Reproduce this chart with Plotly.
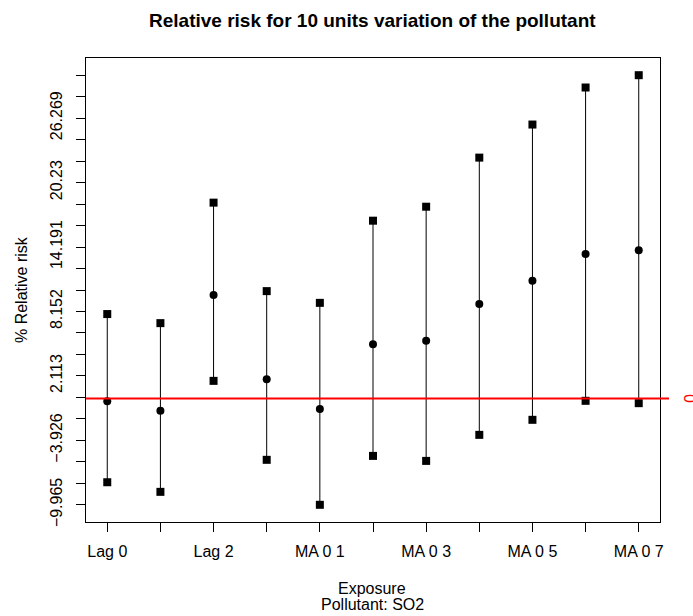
import numpy as np
import plotly.graph_objects as go

# Exposure windows and % relative risk (estimate with confidence limits)
categories = ["Lag 0", "Lag 1", "Lag 2", "Lag 3", "MA 0 1", "MA 0 2",
              "MA 0 3", "MA 0 4", "MA 0 5", "MA 0 6", "MA 0 7"]
estimate = [-0.26, -1.16, 9.69, 1.81, -0.99, 5.07, 5.40, 8.85, 11.03, 13.53, 13.90]
lower = [-7.85, -8.75, 1.65, -5.75, -9.965, -5.38, -5.85, -3.41, -2.00, -0.22, -0.44]
upper = [7.91, 7.06, 18.35, 10.06, 8.96, 16.66, 17.97, 22.57, 25.67, 29.14, 30.295]
y_tick_labels = ["\u22129.965", "\u22123.926", "2.113", "8.152", "14.191", "20.23", "26.269"]

W, H = 693, 616
L, R, T, B = 86, 33, 58, 94
FONT = "Liberation Sans, Arial, sans-serif"


def px_x(px):
    return (px - L) / (W - L - R)


def px_y(py):
    return (H - B - py) / (H - T - B)


xs = list(range(1, len(categories) + 1))

# y ticks: 21 evenly spaced marks over the interval range, every third labelled
lo, hi = min(lower), max(upper)
tick_vals = list(np.linspace(lo, hi, 21))
tick_text = [y_tick_labels[i // 3] if i % 3 == 0 else "" for i in range(21)]
pad = 0.04 * (hi - lo)

# x labels: alternate categories shown
x_text = [c if i % 2 == 0 else "" for i, c in enumerate(categories)]

seg_x, seg_y = [], []
for x, lo_v, up_v in zip(xs, lower, upper):
    seg_x += [x, x, None]
    seg_y += [lo_v, up_v, None]

fig = go.Figure()
fig.add_trace(go.Scatter(x=seg_x, y=seg_y, mode="lines",
                         line=dict(color="black", width=1), hoverinfo="skip"))
fig.add_trace(go.Scatter(x=xs, y=lower, mode="markers",
                         marker=dict(symbol="square", size=8, color="black")))
fig.add_trace(go.Scatter(x=xs, y=upper, mode="markers",
                         marker=dict(symbol="square", size=8, color="black")))
fig.add_trace(go.Scatter(x=xs, y=estimate, mode="markers",
                         marker=dict(symbol="circle", size=8, color="black")))

# reference line at zero
fig.add_shape(type="line", xref="paper", yref="y", x0=0, x1=px_x(669), y0=0, y1=0,
              line=dict(color="red", width=2), layer="above")

annotations = [
    dict(text="<b>Relative risk for 10 units variation of the pollutant</b>",
         x=px_x(372), y=px_y(20), font=dict(size=19, color="black")),
    dict(text="% Relative risk", x=px_x(21), y=px_y(290), textangle=-90,
         font=dict(size=16, color="black")),
    dict(text="Exposure", x=px_x(372), y=px_y(588), font=dict(size=16, color="black")),
    dict(text="Pollutant: SO2", x=px_x(372), y=px_y(604), font=dict(size=16, color="black")),
    dict(text="0", x=px_x(690), y=px_y(398), textangle=90,
         font=dict(size=16, color="red")),
]
for a in annotations:
    a.update(xref="paper", yref="paper", showarrow=False, xanchor="center", yanchor="middle")

fig.update_layout(
    width=W, height=H,
    margin=dict(l=L, r=R, t=T, b=B, autoexpand=False),
    paper_bgcolor="white", plot_bgcolor="white",
    showlegend=False,
    font=dict(family=FONT, size=16, color="black"),
    annotations=annotations,
    xaxis=dict(range=[0.6, 11.4], tickvals=xs, ticktext=x_text,
               showgrid=False, zeroline=False, showline=True, mirror=True,
               linecolor="black", linewidth=1, ticks="outside", ticklen=9,
               tickcolor="black", tickfont=dict(size=16), ticklabelstandoff=6),
    yaxis=dict(range=[lo - pad, hi + pad], tickvals=tick_vals, ticktext=tick_text,
               tickangle=-90, showgrid=False, zeroline=False, showline=True,
               mirror=True, linecolor="black", linewidth=1, ticks="outside",
               ticklen=9, tickcolor="black", tickfont=dict(size=16),
               ticklabelstandoff=8),
)

fig.write_html("out.html")
